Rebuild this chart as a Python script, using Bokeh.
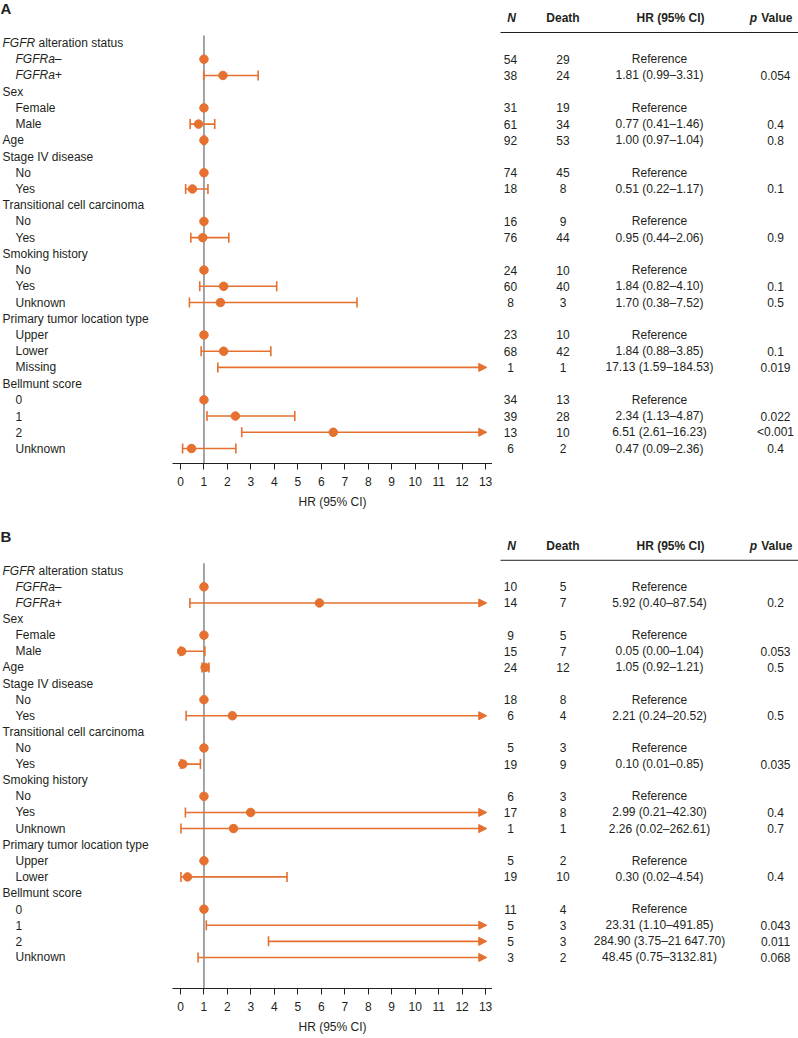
import math
from bokeh.plotting import figure
from bokeh.models import Range1d, FixedTicker, ColumnDataSource, Arrow, NormalHead
from bokeh.layouts import column, row
from bokeh.embed import file_html
from bokeh.resources import INLINE
from bokeh.core.properties import value

# ---------------- data: panel A ----------------
A_labels = ["FGFR alteration status", "FGFRa–", "FGFRa+", "Sex", "Female", "Male", "Age",
            "Stage IV disease", "No", "Yes", "Transitional cell carcinoma", "No", "Yes",
            "Smoking history", "No", "Yes", "Unknown", "Primary tumor location type",
            "Upper", "Lower", "Missing", "Bellmunt score", "0", "1", "2", "Unknown"]
A_level = [0, 1, 1, 0, 1, 1, 0, 0, 1, 1, 0, 1, 1, 0, 1, 1, 1, 0, 1, 1, 1, 0, 1, 1, 1, 1]
A_n = ["", "54", "38", "", "31", "61", "92", "", "74", "18", "", "16", "76", "", "24", "60", "8",
       "", "23", "68", "1", "", "34", "39", "13", "6"]
A_death = ["", "29", "24", "", "19", "34", "53", "", "45", "8", "", "9", "44", "", "10", "40", "3",
           "", "10", "42", "1", "", "13", "28", "10", "2"]
A_hr = [None, 1, 1.81, None, 1, 0.77, 1.00, None, 1, 0.51, None, 1, 0.95, None, 1, 1.84, 1.70,
        None, 1, 1.84, 17.13, None, 1, 2.34, 6.51, 0.47]
A_lo = [None, None, 0.99, None, None, 0.41, 0.97, None, None, 0.22, None, None, 0.44, None, None,
        0.82, 0.38, None, None, 0.88, 1.59, None, None, 1.13, 2.61, 0.09]
A_hi = [None, None, 3.31, None, None, 1.46, 1.04, None, None, 1.17, None, None, 2.06, None, None,
        4.10, 7.52, None, None, 3.85, 184.53, None, None, 4.87, 16.23, 2.36]
A_p = ["", "", "0.054", "", "", "0.4", "0.8", "", "", "0.1", "", "", "0.9", "", "", "0.1", "0.5",
       "", "", "0.1", "0.019", "", "", "0.022", "<0.001", "0.4"]

# ---------------- data: panel B ----------------
B_labels = ["FGFR alteration status", "FGFRa–", "FGFRa+", "Sex", "Female", "Male", "Age",
            "Stage IV disease", "No", "Yes", "Transitional cell carcinoma", "No", "Yes",
            "Smoking history", "No", "Yes", "Unknown", "Primary tumor location type",
            "Upper", "Lower", "Bellmunt score", "0", "1", "2", "Unknown"]
B_level = [0, 1, 1, 0, 1, 1, 0, 0, 1, 1, 0, 1, 1, 0, 1, 1, 1, 0, 1, 1, 0, 1, 1, 1, 1]
B_n = ["", "10", "14", "", "9", "15", "24", "", "18", "6", "", "5", "19", "", "6", "17", "1",
       "", "5", "19", "", "11", "5", "5", "3"]
B_death = ["", "5", "7", "", "5", "7", "12", "", "8", "4", "", "3", "9", "", "3", "8", "1",
           "", "2", "10", "", "4", "3", "3", "2"]
B_hr = [None, 1, 5.92, None, 1, 0.05, 1.05, None, 1, 2.21, None, 1, 0.10, None, 1, 2.99, 2.26,
        None, 1, 0.30, None, 1, 23.31, 284.90, 48.45]
B_lo = [None, None, 0.40, None, None, 0.00, 0.92, None, None, 0.24, None, None, 0.01, None, None,
        0.21, 0.02, None, None, 0.02, None, None, 1.10, 3.75, 0.75]
B_hi = [None, None, 87.54, None, None, 1.04, 1.21, None, None, 20.52, None, None, 0.85, None, None,
        42.30, 262.61, None, None, 4.54, None, None, 491.85, 21647.70, 3132.81]
B_p = ["", "", "0.2", "", "", "0.053", "0.5", "", "", "0.5", "", "", "0.035", "", "", "0.4", "0.7",
       "", "", "0.4", "", "", "0.043", "0.011", "0.068"]

X_TICKS = list(range(0, 14))

# ---------------- style / layout ----------------
ORANGE = "#E5702F"
GRAY = "#8C8E91"
INK = "#231F20"
FONT = "Liberation Sans"
FS = "12px"
FRAME_H = 463
ROW0 = 42.5
STEP = 16.22
PX_PER_HR = 23.47
PLOT_W = 320
HR_MIN = -0.34
HR_MAX = HR_MIN + PLOT_W / PX_PER_HR
ARROW_TIP = 13.05
LEFT_W = 172
TABLE_W = 306


def base(width, height, xr, axis=False):
    p = figure(width=width, height=height, output_backend="svg", toolbar_location=None,
               x_range=xr, y_range=Range1d(FRAME_H, 0),
               x_axis_location="below" if axis else None, y_axis_location=None,
               min_border_left=0, min_border_right=0, min_border_top=0,
               min_border_bottom=height - FRAME_H)
    p.outline_line_color = None
    p.grid.visible = False
    return p


def txt(p, xs, ys, texts, align="left", style="normal", x_offset=0, size=FS):
    src = ColumnDataSource(dict(x=xs, y=ys, t=texts))
    p.text(x="x", y="y", text="t", source=src, text_font=value(FONT),
           text_font_size=value(size), text_font_style=style, text_align=align,
           text_baseline="middle", text_color=INK, x_offset=x_offset)


def fmt(v):
    s = f"{v:.2f}"
    if v >= 10000:
        ip, dp = s.split(".")
        s = f"{int(ip):,}".replace(",", " ") + "." + dp
    return s


def panel(letter, labels, level, ns, deaths, hrs, los, his, ps, height):
    ys = [ROW0 + i * STEP for i in range(len(labels))]

    # ---- left labels ----
    left = base(LEFT_W, height, Range1d(0, LEFT_W))
    txt(left, [0], [8], [letter], style="bold", size="15px")
    nx, ny, nt, ix, iy, it = [], [], [], [], [], []
    sx, sy, st = [], [], []
    for lab, lv, y in zip(labels, level, ys):
        x = 2 if lv == 0 else 15
        if lab.startswith("FGFR "):
            ix.append(x); iy.append(y); it.append("FGFR")
            sx.append(x); sy.append(y); st.append(lab[5:])
        elif lab.startswith("FGFRa"):
            ix.append(x); iy.append(y); it.append(lab)
        else:
            nx.append(x); ny.append(y); nt.append(lab)
    txt(left, nx, ny, nt)
    txt(left, ix, iy, it, style="italic")
    txt(left, sx, sy, st, x_offset=36.0)

    # ---- forest plot ----
    fp = base(PLOT_W, height, Range1d(HR_MIN, HR_MAX), axis=True)
    fp.segment(x0=[1], y0=[35], x1=[1], y1=[FRAME_H], line_color=GRAY, line_width=1.6)
    seg_x0, seg_x1, seg_y = [], [], []
    cap_x, cap_y = [], []
    arr_x0, arr_y = [], []
    dot_x, dot_y = [], []
    for hr, lo, hi, y in zip(hrs, los, his, ys):
        if hr is None:
            continue
        if hr <= 13:
            dot_x.append(hr); dot_y.append(y)
        if lo is None:
            continue
        cap_x.append(lo); cap_y.append(y)
        if hi <= 13:
            seg_x0.append(lo); seg_x1.append(hi); seg_y.append(y)
            cap_x.append(hi); cap_y.append(y)
        else:
            arr_x0.append(lo); arr_y.append(y)
    fp.segment(x0=seg_x0, y0=seg_y, x1=seg_x1, y1=seg_y, line_color=ORANGE, line_width=1.6)
    fp.scatter(x=cap_x, y=cap_y, marker="dash", angle=math.pi / 2, size=10,
               line_color=ORANGE, line_width=1.6)
    if arr_x0:
        asrc = ColumnDataSource(dict(x0=arr_x0, x1=[ARROW_TIP] * len(arr_x0), y=arr_y))
        fp.add_layout(Arrow(end=NormalHead(size=8, fill_color=ORANGE, line_color=ORANGE,
                                           line_width=1),
                            x_start="x0", y_start="y", x_end="x1", y_end="y", source=asrc,
                            line_color=ORANGE, line_width=1.6))
    fp.scatter(x=dot_x, y=dot_y, marker="circle", size=8.5, fill_color=ORANGE,
               line_color=ORANGE)
    ax = fp.xaxis[0]
    ax.ticker = FixedTicker(ticks=X_TICKS)
    ax.major_tick_out = 6
    ax.major_tick_in = 0
    ax.minor_tick_out = 0
    ax.minor_tick_in = 0
    ax.axis_line_color = INK
    ax.major_tick_line_color = INK
    ax.major_label_text_font = FONT
    ax.major_label_text_font_size = FS
    ax.major_label_text_color = INK
    ax.major_label_standoff = 7
    ax.axis_label = "HR (95% CI)"
    ax.axis_label_text_font = FONT
    ax.axis_label_text_font_size = FS
    ax.axis_label_text_font_style = "normal"
    ax.axis_label_text_color = INK
    ax.axis_label_standoff = 6

    # ---- table ----
    tb = base(TABLE_W, height, Range1d(0, TABLE_W))
    hy = 17.5
    txt(tb, [19], [hy], ["N"], align="center", style="bold italic")
    txt(tb, [70.5], [hy], ["Death"], align="center", style="bold")
    txt(tb, [178], [hy], ["HR (95% CI)"], align="center", style="bold")
    txt(tb, [300], [hy], ["Value"], align="right", style="bold")
    txt(tb, [300], [hy], ["p"], align="right", style="bold italic", x_offset=-35.4)
    tb.segment(x0=[8], y0=[32], x1=[TABLE_W], y1=[32], line_color=INK, line_width=1)
    hr_txt = []
    for hr, lo, hi in zip(hrs, los, his):
        if hr is None:
            hr_txt.append("")
        elif lo is None:
            hr_txt.append("Reference")
        else:
            hr_txt.append(f"{fmt(hr)} ({fmt(lo)}–{fmt(hi)})")
    txt(tb, [18] * len(ys), ys, ns, align="center")
    txt(tb, [70.5] * len(ys), ys, deaths, align="center")
    txt(tb, [167] * len(ys), ys, hr_txt, align="center")
    txt(tb, [283] * len(ys), ys, ps, align="center")

    return row(left, fp, tb)


pa = panel("A", A_labels, A_level, A_n, A_death, A_hr, A_lo, A_hi, A_p, 528)
pb = panel("B", B_labels, B_level, B_n, B_death, B_hr, B_lo, B_hi, B_p, 508)
layout = column(pa, pb)

open("out.html", "w").write(file_html(layout, INLINE))
